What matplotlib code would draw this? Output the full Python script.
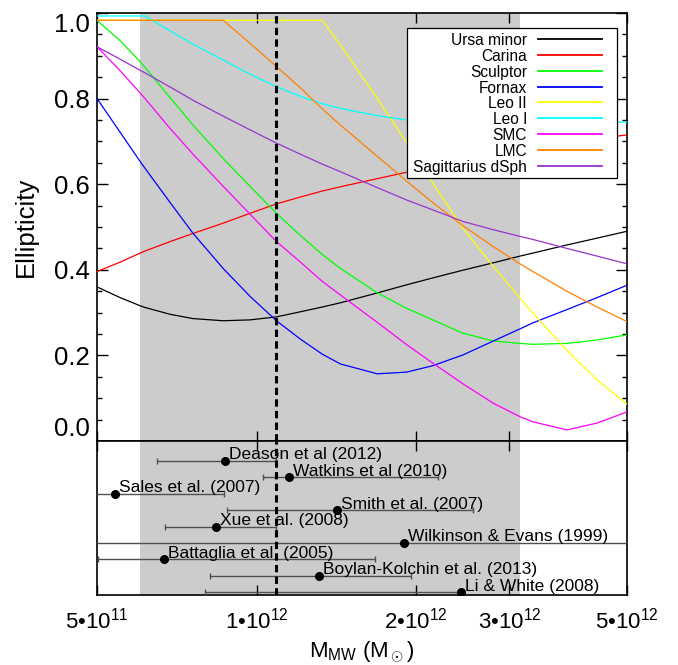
import numpy as np
import matplotlib
matplotlib.use("Agg")
import matplotlib.pyplot as plt
from matplotlib.patches import Rectangle
from matplotlib.ticker import FixedLocator, FixedFormatter, NullLocator, MultipleLocator

plt.rcParams['font.family'] = ['Liberation Sans', 'DejaVu Sans']
plt.rcParams['mathtext.fontset'] = 'custom'
plt.rcParams['mathtext.rm'] = 'Liberation Sans'
plt.rcParams['mathtext.it'] = 'Liberation Sans:italic'

# mass grid (Msun) shared by all ellipticity curves
mass_grid = np.array([5.00, 5.53, 6.03, 6.16, 6.87, 7.59, 8.65, 9.72, 10.9, 12.1, 13.3,
                      14.4, 16.9, 19.2, 21.5, 24.5, 27.9, 31.4, 33.2, 38.5, 43.9, 50.0]) * 1e11

ursa_minor = [0.360, 0.335, 0.316, 0.312, 0.296, 0.286, 0.281, 0.283, 0.290, 0.302, 0.313,
              0.323, 0.346, 0.365, 0.381, 0.399, 0.416, 0.432, 0.439, 0.458, 0.474, 0.490]
carina = [0.396, 0.418, 0.439, 0.444, 0.466, 0.485, 0.509, 0.532, 0.554, 0.570, 0.584,
          0.594, 0.613, 0.628, 0.640, 0.655, 0.668, 0.680, 0.685, 0.697, 0.707, 0.715]
sculptor = [0.983, 0.935, 0.886, 0.873, 0.802, 0.738, 0.660, 0.595, 0.532, 0.480, 0.436,
            0.403, 0.346, 0.310, 0.283, 0.252, 0.234, 0.228, 0.226, 0.228, 0.236, 0.248]
fornax = [0.800, 0.721, 0.653, 0.637, 0.557, 0.485, 0.403, 0.338, 0.281, 0.238, 0.203,
          0.180, 0.157, 0.161, 0.176, 0.201, 0.233, 0.262, 0.276, 0.307, 0.335, 0.364]
leo_ii = [0.983, 0.983, 0.983, 0.983, 0.983, 0.983, 0.983, 0.983, 0.983, 0.983, 0.983,
          0.925, 0.800, 0.697, 0.603, 0.497, 0.410, 0.334, 0.299, 0.212, 0.143, 0.086]
leo_i = [0.993, 0.993, 0.993, 0.993, 0.958, 0.927, 0.890, 0.857, 0.828, 0.805, 0.788,
         0.777, 0.760, 0.750, 0.747, 0.745, 0.745, 0.745, 0.745, 0.745, 0.745, 0.745]
smc = [0.921, 0.865, 0.813, 0.800, 0.730, 0.670, 0.595, 0.530, 0.466, 0.418, 0.373,
       0.341, 0.277, 0.225, 0.182, 0.134, 0.089, 0.057, 0.045, 0.026, 0.042, 0.068]
lmc = [0.983, 0.983, 0.983, 0.983, 0.983, 0.983, 0.983, 0.929, 0.875, 0.825, 0.776,
       0.738, 0.665, 0.607, 0.557, 0.503, 0.455, 0.414, 0.396, 0.350, 0.313, 0.279]
sagittarius = [0.921, 0.892, 0.866, 0.860, 0.827, 0.796, 0.759, 0.727, 0.696, 0.670, 0.647,
               0.629, 0.592, 0.563, 0.540, 0.513, 0.494, 0.478, 0.471, 0.450, 0.432, 0.414]

galaxies = ["Ursa minor", "Carina", "Sculptor", "Fornax", "Leo II", "Leo I", "SMC", "LMC",
            "Sagittarius dSph"]
curves = [ursa_minor, carina, sculptor, fornax, leo_ii, leo_i, smc, lmc, sagittarius]
colors = ["black", "#ff0000", "#00ff00", "#0000ff", "#ffff00", "#00ffff", "#ff00ff",
          "#ff8000", "#9933cc"]

# MW mass estimates from the literature
studies = ["Deason et al (2012)", "Watkins et al (2010)", "Sales et al. (2007)",
           "Smith et al. (2007)", "Xue et al. (2008)", "Wilkinson & Evans (1999)",
           "Battaglia et al. (2005)", "Boylan-Kolchin et al. (2013)", "Li & White (2008)"]
est_mass = np.array([8.72e11, 1.15e12, 5.40e11, 1.42e12, 8.38e11, 1.90e12, 6.69e11, 1.31e12, 2.43e12])
est_low = np.array([6.49e11, 1.03e12, 4.00e11, 8.80e11, 6.72e11, 2.00e11, 5.03e11, 8.17e11, 8.00e11])
est_high = np.array([1.09e12, 2.20e12, 8.67e11, 2.56e12, 1.09e12, 5.50e12, 1.67e12, 1.96e12, 2.43e12])

shade_range = (6.02e11, 3.14e12)
fiducial_mass = 1.09e12

xticks = [5e11, 1e12, 2e12, 3e12, 5e12]
xticklabels = [r'$\mathregular{5•10^{11}}$', r'$\mathregular{1•10^{12}}$',
               r'$\mathregular{2•10^{12}}$', r'$\mathregular{3•10^{12}}$',
               r'$\mathregular{5•10^{12}}$']
yticks = [0.0, 0.2, 0.4, 0.6, 0.8, 1.0]

fig = plt.figure(figsize=(6.78, 6.65), dpi=100)
ax = fig.add_axes([0.1431, 0.3368, 0.7817, 0.6437])
ax2 = fig.add_axes([0.1431, 0.1053, 0.7817, 0.2316])

for a in (ax, ax2):
    a.set_xscale('log')
    a.set_xlim(5e11, 5e12)
    a.axvspan(*shade_range, color='#cccccc', lw=0, zorder=0)
    a.axvline(fiducial_mass, color='black', lw=2.2, ls=(0, (2.4, 1.4)), zorder=5)
    a.xaxis.set_major_locator(FixedLocator(xticks))
    a.xaxis.set_minor_locator(NullLocator())
    a.tick_params(axis='x', which='major', direction='in', top=True, bottom=True,
                  length=7, width=1.0)
    for s in a.spines.values():
        s.set_linewidth(1.2)

# top panel: ellipticity curves
for name, vals, col in zip(galaxies, curves, colors):
    ax.plot(mass_grid, vals, color=col, lw=0.9, zorder=3)

ax.set_ylim(0, 1.0)
ax.yaxis.set_major_locator(FixedLocator(yticks))
ax.yaxis.set_minor_locator(MultipleLocator(0.05))
ax.yaxis.set_major_formatter(FixedFormatter(['%.1f' % v for v in yticks]))
ax.tick_params(axis='y', which='major', direction='in', left=True, right=True,
               length=8, width=1.0, labelsize=18.5, pad=5)
ax.tick_params(axis='y', which='minor', direction='in', left=True, right=True,
               length=3.6, width=1.0)
ax.tick_params(axis='x', labelbottom=False)
ax.set_ylabel('Ellipticity', fontsize=18.5)
ax.yaxis.set_label_coords(-0.112, 0.5)

# keep the end labels inside the panel
yt = ax.yaxis.get_major_ticks()
yt[0].label1.set_va('bottom')
yt[len(yticks) - 1].label1.set_va('top')

# legend box drawn by hand so labels sit right-aligned against the lines
ax.add_patch(Rectangle((0.5849, 0.6145), 0.3962, 0.3505, transform=ax.transAxes,
                       facecolor='white', edgecolor='black', lw=0.9, zorder=6))
for i, (name, col) in enumerate(zip(galaxies, colors)):
    yy = 0.9386 - 0.0369 * i
    ax.text(0.8113, yy, name, transform=ax.transAxes, ha='right', va='center_baseline',
            fontsize=11.2, zorder=7)
    ax.plot([0.832, 0.953], [yy, yy], transform=ax.transAxes, color=col, lw=1.3, zorder=7)

# bottom panel: literature estimates
rows = np.arange(len(studies))
ax2.errorbar(est_mass, rows, xerr=[est_mass - est_low, est_high - est_mass], fmt='o',
             color='black', ecolor='#505050', elinewidth=1.0, capsize=2.2, capthick=1.0,
             markersize=5.5, zorder=4)
for name, m, r in zip(studies, est_mass, rows):
    ax2.annotate(name, (m, r), xytext=(3, 1.2), textcoords='offset points',
                 fontsize=12.5, ha='left', va='baseline', zorder=6)
ax2.set_ylim(8.166, -1.219)
ax2.yaxis.set_major_locator(NullLocator())
ax2.xaxis.set_major_formatter(FixedFormatter(xticklabels))
ax2.tick_params(axis='x', labelsize=16, pad=9)
ax2.set_xlabel(r'$\mathregular{M_{MW}}$ (M$_\odot$)', fontsize=16)
ax2.xaxis.set_label_coords(0.5, -0.29)

fig.savefig('out.png', dpi=100)
